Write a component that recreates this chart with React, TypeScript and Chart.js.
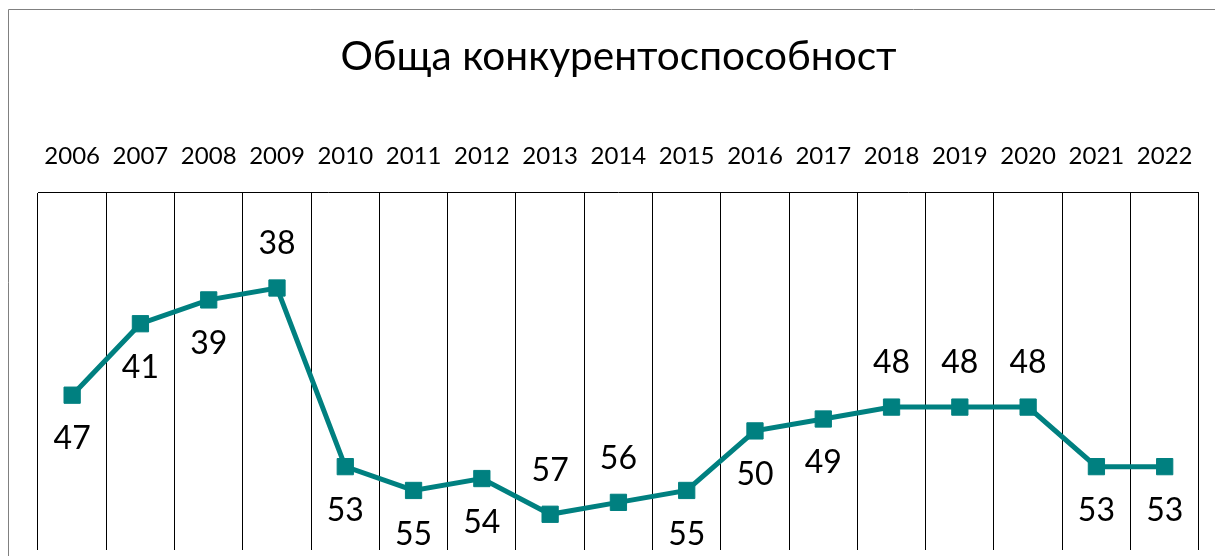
import React, { useEffect, useRef } from "react";
import { Chart, registerables } from "chart.js";

Chart.register(...registerables);

const years = ["2006", "2007", "2008", "2009", "2010", "2011", "2012", "2013", "2014", "2015", "2016", "2017", "2018", "2019", "2020", "2021", "2022"];
const ranks = [47, 41, 39, 38, 53, 55, 54, 57, 56, 55, 50, 49, 48, 48, 48, 53, 53];
const labelPlacement = ["below", "below", "below", "above", "below", "below", "below", "above", "above", "below", "below", "below", "above", "above", "above", "below", "below"];
const chartTitle = "Обща конкурентоспособност";

const FONT = "Lato, 'Open Sans', sans-serif";
const TEAL = "#008080";

const frameAndLabels = {
  id: "frameAndLabels",
  afterDatasetsDraw(chart: any) {
    const ctx = chart.ctx;
    const meta = chart.getDatasetMeta(0);
    ctx.save();
    ctx.font = `32px ${FONT}`;
    ctx.fillStyle = "#000";
    ctx.textAlign = "center";
    ctx.textBaseline = "middle";
    meta.data.forEach((pt: any, i: number) => {
      const dy = labelPlacement[i] === "above" ? -44 : 44;
      ctx.fillText(String(ranks[i]), pt.x, pt.y + dy);
    });
    ctx.restore();
  },
  beforeDraw(chart: any) {
    const ctx = chart.ctx;
    ctx.save();
    ctx.strokeStyle = "#808080";
    ctx.lineWidth = 1;
    ctx.beginPath();
    ctx.moveTo(0.5, chart.height);
    ctx.lineTo(0.5, 1.5);
    ctx.lineTo(chart.width, 1.5);
    ctx.stroke();
    ctx.restore();
  },
};

export default function App() {
  const ref = useRef<HTMLCanvasElement | null>(null);
  useEffect(() => {
    if (!ref.current) return;
    const chart = new Chart(ref.current, {
      type: "line",
      data: {
        labels: years,
        datasets: [
          {
            data: ranks,
            borderColor: TEAL,
            backgroundColor: TEAL,
            borderWidth: 5,
            pointStyle: "rect",
            pointRadius: 11.5,
            pointBorderWidth: 1,
            pointBackgroundColor: TEAL,
            pointBorderColor: TEAL,
            tension: 0,
            clip: false,
          },
        ],
      },
      options: {
        animation: false,
        responsive: false,
        maintainAspectRatio: false,
        layout: { autoPadding: false, padding: { left: 30, right: 16, top: 0, bottom: 6 } },
        plugins: {
          legend: { display: false },
          tooltip: { enabled: false },
          title: {
            display: true,
            text: chartTitle,
            color: "#000",
            font: { family: FONT, size: 40.6, weight: "normal" },
            padding: { top: 25, bottom: 60 },
          },
        },
        scales: {
          x: {
            position: "top",
            offset: true,
            grid: { offset: true, color: "#000", lineWidth: 1, drawTicks: false },
            border: { display: true, color: "#000", width: 1 },
            ticks: { color: "#000", font: { family: FONT, size: 24 }, padding: 22, maxRotation: 0, autoSkip: false },
            afterFit(scale: any) {
              scale.height = 184 - 133;
            },
          },
          y: {
            display: false,
            reverse: true,
            min: 30,
            max: 60,
          },
        },
      },
      plugins: [frameAndLabels],
    });
    return () => chart.destroy();
  }, []);
  return (
    <div style={{ position: "fixed", left: 8, top: 8, width: 1207, height: 548, overflow: "hidden", background: "#fff" }}>
      <canvas ref={ref} width={1207} height={548} style={{ display: "block" }} />
    </div>
  );
}
